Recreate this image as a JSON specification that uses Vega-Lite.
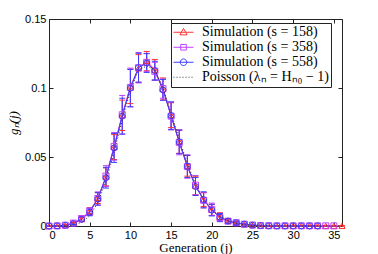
{
"$schema": "https://vega.github.io/schema/vega-lite/v6.json",
"width": 293, "height": 207,
"autosize": "none",
"padding": {"left": 49, "top": 19, "right": 36, "bottom": 28},
"background": "white",
"config": {
  "view": {"stroke": "#222", "strokeWidth": 1},
  "axis": {"grid": false, "domain": false, "tickColor": "#222", "tickSize": -4, "labelFont": "Liberation Sans", "labelFontSize": 11, "labelColor": "black", "titleFont": "Liberation Serif", "titleFontSize": 13, "titleColor": "black", "titleFontWeight": "normal", "labelPadding": 7}
},
"datasets": {
"sim": [
{"s":"158","j":0,"g":0,"lo":0,"hi":0},{"s":"158","j":1,"g":0.0001,"lo":0,"hi":0.0002},{"s":"158","j":2,"g":0.0005,"lo":0.0002,"hi":0.0008},{"s":"158","j":3,"g":0.0020,"lo":0.0012,"hi":0.0028},{"s":"158","j":4,"g":0.0050,"lo":0.0035,"hi":0.0065},{"s":"158","j":5,"g":0.0108,"lo":0.0083,"hi":0.0133},{"s":"158","j":6,"g":0.0203,"lo":0.0163,"hi":0.0243},{"s":"158","j":7,"g":0.0356,"lo":0.0291,"hi":0.0421},{"s":"158","j":8,"g":0.0572,"lo":0.0482,"hi":0.0662},{"s":"158","j":9,"g":0.0802,"lo":0.0692,"hi":0.0912},{"s":"158","j":10,"g":0.1012,"lo":0.0887,"hi":0.1137},{"s":"158","j":11,"g":0.1142,"lo":0.1042,"hi":0.1242},{"s":"158","j":12,"g":0.1195,"lo":0.1125,"hi":0.1265},{"s":"158","j":13,"g":0.1132,"lo":0.1057,"hi":0.1207},{"s":"158","j":14,"g":0.0993,"lo":0.0913,"hi":0.1073},{"s":"158","j":15,"g":0.0803,"lo":0.0713,"hi":0.0893},{"s":"158","j":16,"g":0.0612,"lo":0.0527,"hi":0.0697},{"s":"158","j":17,"g":0.0436,"lo":0.0361,"hi":0.0511},{"s":"158","j":18,"g":0.0292,"lo":0.0227,"hi":0.0357},{"s":"158","j":19,"g":0.0192,"lo":0.0142,"hi":0.0242},{"s":"158","j":20,"g":0.0117,"lo":0.0077,"hi":0.0157},{"s":"158","j":21,"g":0.0066,"lo":0.0036,"hi":0.0096},{"s":"158","j":22,"g":0.0037,"lo":0.0022,"hi":0.0052},{"s":"158","j":23,"g":0.0022,"lo":0.0012,"hi":0.0032},{"s":"158","j":24,"g":0.0012,"lo":0.0006,"hi":0.0018},{"s":"158","j":25,"g":0.0006,"lo":0.0002,"hi":0.0010},{"s":"158","j":26,"g":0.0003,"lo":0.0001,"hi":0.0005},{"s":"158","j":27,"g":0.0002,"lo":0.0001,"hi":0.0003},{"s":"158","j":28,"g":0.0001,"lo":0,"hi":0.0002},{"s":"158","j":29,"g":0.0001,"lo":0,"hi":0.0002},{"s":"158","j":30,"g":0.0001,"lo":0,"hi":0.0002},{"s":"158","j":31,"g":0.0001,"lo":0,"hi":0.0002},{"s":"158","j":32,"g":0.0001,"lo":0,"hi":0.0002},{"s":"158","j":33,"g":0.0001,"lo":0,"hi":0.0002},{"s":"158","j":34,"g":0.0001,"lo":0,"hi":0.0002},{"s":"158","j":35,"g":0.0001,"lo":0,"hi":0.0002},{"s":"158","j":36,"g":0.0001,"lo":0,"hi":0.0002},
{"s":"358","j":0,"g":0,"lo":0,"hi":0},{"s":"358","j":1,"g":0.0001,"lo":0,"hi":0.0002},{"s":"358","j":2,"g":0.0006,"lo":0.0003,"hi":0.0009},{"s":"358","j":3,"g":0.0021,"lo":0.0012,"hi":0.0030},{"s":"358","j":4,"g":0.0054,"lo":0.0036,"hi":0.0072},{"s":"358","j":5,"g":0.0104,"lo":0.0076,"hi":0.0132},{"s":"358","j":6,"g":0.0199,"lo":0.0151,"hi":0.0247},{"s":"358","j":7,"g":0.0362,"lo":0.0287,"hi":0.0437},{"s":"358","j":8,"g":0.0577,"lo":0.0477,"hi":0.0677},{"s":"358","j":9,"g":0.0806,"lo":0.0666,"hi":0.0946},{"s":"358","j":10,"g":0.1004,"lo":0.0864,"hi":0.1144},{"s":"358","j":11,"g":0.1147,"lo":0.1037,"hi":0.1257},{"s":"358","j":12,"g":0.1186,"lo":0.1121,"hi":0.1251},{"s":"358","j":13,"g":0.1121,"lo":0.1056,"hi":0.1186},{"s":"358","j":14,"g":0.0996,"lo":0.0926,"hi":0.1066},{"s":"358","j":15,"g":0.0796,"lo":0.0696,"hi":0.0896},{"s":"358","j":16,"g":0.0606,"lo":0.0516,"hi":0.0696},{"s":"358","j":17,"g":0.0431,"lo":0.0346,"hi":0.0516},{"s":"358","j":18,"g":0.0296,"lo":0.0226,"hi":0.0366},{"s":"358","j":19,"g":0.0186,"lo":0.0131,"hi":0.0241},{"s":"358","j":20,"g":0.0121,"lo":0.0076,"hi":0.0166},{"s":"358","j":21,"g":0.0061,"lo":0.0031,"hi":0.0091},{"s":"358","j":22,"g":0.0035,"lo":0.0019,"hi":0.0051},{"s":"358","j":23,"g":0.0024,"lo":0.0014,"hi":0.0034},{"s":"358","j":24,"g":0.0013,"lo":0.0007,"hi":0.0019},{"s":"358","j":25,"g":0.0007,"lo":0.0003,"hi":0.0011},{"s":"358","j":26,"g":0.0003,"lo":0.0001,"hi":0.0005},{"s":"358","j":27,"g":0.0002,"lo":0.0001,"hi":0.0003},{"s":"358","j":28,"g":0.0001,"lo":0,"hi":0.0002},{"s":"358","j":29,"g":0.0001,"lo":0,"hi":0.0002},{"s":"358","j":30,"g":0.0001,"lo":0,"hi":0.0002},{"s":"358","j":31,"g":0.0001,"lo":0,"hi":0.0002},{"s":"358","j":32,"g":0.0001,"lo":0,"hi":0.0002},{"s":"358","j":33,"g":0.0001,"lo":0,"hi":0.0002},{"s":"358","j":34,"g":0.0001,"lo":0,"hi":0.0002},{"s":"358","j":35,"g":0.0001,"lo":0,"hi":0.0002},
{"s":"558","j":0,"g":0,"lo":0,"hi":0},{"s":"558","j":1,"g":0.0001,"lo":0,"hi":0.0002},{"s":"558","j":2,"g":0.0005,"lo":0.0002,"hi":0.0008},{"s":"558","j":3,"g":0.0018,"lo":0.0011,"hi":0.0025},{"s":"558","j":4,"g":0.0048,"lo":0.0032,"hi":0.0064},{"s":"558","j":5,"g":0.0100,"lo":0.0074,"hi":0.0126},{"s":"558","j":6,"g":0.0196,"lo":0.0151,"hi":0.0241},{"s":"558","j":7,"g":0.0350,"lo":0.0275,"hi":0.0425},{"s":"558","j":8,"g":0.0566,"lo":0.0461,"hi":0.0671},{"s":"558","j":9,"g":0.0796,"lo":0.0666,"hi":0.0926},{"s":"558","j":10,"g":0.0999,"lo":0.0864,"hi":0.1134},{"s":"558","j":11,"g":0.1147,"lo":0.1042,"hi":0.1252},{"s":"558","j":12,"g":0.1181,"lo":0.1113,"hi":0.1249},{"s":"558","j":13,"g":0.1126,"lo":0.1058,"hi":0.1194},{"s":"558","j":14,"g":0.0986,"lo":0.0911,"hi":0.1061},{"s":"558","j":15,"g":0.0800,"lo":0.0700,"hi":0.0900},{"s":"558","j":16,"g":0.0609,"lo":0.0524,"hi":0.0694},{"s":"558","j":17,"g":0.0432,"lo":0.0352,"hi":0.0512},{"s":"558","j":18,"g":0.0286,"lo":0.0221,"hi":0.0351},{"s":"558","j":19,"g":0.0190,"lo":0.0132,"hi":0.0248},{"s":"558","j":20,"g":0.0115,"lo":0.0073,"hi":0.0157},{"s":"558","j":21,"g":0.0063,"lo":0.0035,"hi":0.0091},{"s":"558","j":22,"g":0.0036,"lo":0.0021,"hi":0.0051},{"s":"558","j":23,"g":0.0023,"lo":0.0013,"hi":0.0033},{"s":"558","j":24,"g":0.0014,"lo":0.0008,"hi":0.0020},{"s":"558","j":25,"g":0.0006,"lo":0.0002,"hi":0.0010},{"s":"558","j":26,"g":0.0003,"lo":0.0001,"hi":0.0005},{"s":"558","j":27,"g":0.0001,"lo":0,"hi":0.0002},{"s":"558","j":28,"g":0.0001,"lo":0,"hi":0.0002},{"s":"558","j":29,"g":0.0001,"lo":0,"hi":0.0002},{"s":"558","j":30,"g":0.0001,"lo":0,"hi":0.0002},{"s":"558","j":31,"g":0.0001,"lo":0,"hi":0.0002},{"s":"558","j":32,"g":0.0001,"lo":0,"hi":0.0002},{"s":"558","j":33,"g":0.0001,"lo":0,"hi":0.0002}
],
"poi": [
{"j":0,"g":0},{"j":1,"g":0},{"j":2,"g":0.0001},{"j":3,"g":0.0007},{"j":4,"g":0.0026},{"j":5,"g":0.0074},{"j":6,"g":0.0170},{"j":7,"g":0.0325},{"j":8,"g":0.0535},{"j":9,"g":0.0768},{"j":10,"g":0.0982},{"j":11,"g":0.1129},{"j":12,"g":0.1160},{"j":13,"g":0.1131},{"j":14,"g":0.1001},{"j":15,"g":0.0822},{"j":16,"g":0.0630},{"j":17,"g":0.0453},{"j":18,"g":0.0306},{"j":19,"g":0.0196},{"j":20,"g":0.0118},{"j":21,"g":0.0068},{"j":22,"g":0.0037},{"j":23,"g":0.0019},{"j":24,"g":0.0009},{"j":25,"g":0.0004},{"j":26,"g":0.0002},{"j":27,"g":0.0001},{"j":28,"g":0},{"j":29,"g":0},{"j":30,"g":0},{"j":31,"g":0},{"j":32,"g":0},{"j":33,"g":0},{"j":34,"g":0},{"j":35,"g":0},{"j":36,"g":0}
],
"leg": [
{"label":"Simulation (s = 158)"},{"label":"Simulation (s = 358)"},{"label":"Simulation (s = 558)"},{"label":"Poisson (λₙ = Hₙ₀ − 1)"}
]
},
"resolve": {"scale": {"color": "independent", "shape": "independent"}, "axis": {"x": "independent", "y": "independent"}},
"layer": [
{
 "data": {"name": "sim"},
 "mark": {"type": "rule", "strokeWidth": 1},
 "encoding": {
  "x": {"field": "j", "type": "quantitative", "scale": {"domain": [0, 36], "nice": false, "zero": false},
        "axis": {"orient": "bottom", "values": [0,5,10,15,20,25,30,35], "title": "Generation (j)", "titleFont": "Liberation Serif", "titleFontSize": 13, "titlePadding": 1}},
  "y": {"field": "lo", "type": "quantitative", "scale": {"domain": [0, 0.15], "nice": false},
        "axis": {"orient": "left", "values": [0,0.05,0.1,0.15], "format": ".2~f", "title": "gₙ(j)", "titleFont": "Liberation Serif", "titleFontSize": 13, "titleFontStyle": "italic", "titlePadding": 4}},
  "y2": {"field": "hi"},
  "color": {"field": "s", "type": "nominal", "scale": {"domain": ["158","358","558"], "range": ["#ff3030","#c040ff","#3c3cff"]}, "legend": null}
 }
},
{
 "data": {"name": "sim"},
 "mark": {"type": "tick", "orient": "horizontal", "size": 6, "thickness": 1, "opacity": 1},
 "encoding": {
  "x": {"field": "j", "type": "quantitative", "scale": {"domain": [0, 36], "nice": false, "zero": false},
        "axis": {"orient": "top", "values": [0,5,10,15,20,25,30,35], "labels": false, "title": null}},
  "y": {"field": "lo", "type": "quantitative", "scale": {"domain": [0, 0.15], "nice": false},
        "axis": {"orient": "right", "values": [0,0.05,0.1,0.15], "labels": false, "title": null}},
  "color": {"field": "s", "type": "nominal", "scale": {"domain": ["158","358","558"], "range": ["#ff3030","#c040ff","#3c3cff"]}, "legend": null}
 }
},
{
 "data": {"name": "sim"},
 "mark": {"type": "tick", "orient": "horizontal", "size": 6, "thickness": 1, "opacity": 1},
 "encoding": {
  "x": {"field": "j", "type": "quantitative", "axis": null},
  "y": {"field": "hi", "type": "quantitative", "axis": null},
  "color": {"field": "s", "type": "nominal", "scale": {"domain": ["158","358","558"], "range": ["#ff3030","#c040ff","#3c3cff"]}, "legend": null}
 }
},
{
 "data": {"name": "sim"},
 "mark": {"type": "line", "strokeWidth": 1},
 "encoding": {
  "x": {"field": "j", "type": "quantitative", "axis": null},
  "y": {"field": "g", "type": "quantitative", "axis": null},
  "color": {"field": "s", "type": "nominal", "scale": {"domain": ["158","358","558"], "range": ["#ff3030","#c040ff","#3c3cff"]}, "legend": null}
 }
},
{
 "data": {"name": "sim"},
 "mark": {"type": "point", "filled": false, "strokeWidth": 1, "size": 36, "opacity": 1},
 "encoding": {
  "x": {"field": "j", "type": "quantitative", "axis": null},
  "y": {"field": "g", "type": "quantitative", "axis": null},
  "color": {"field": "s", "type": "nominal", "scale": {"domain": ["158","358","558"], "range": ["#ff3030","#c040ff","#3c3cff"]}, "legend": null},
  "shape": {"field": "s", "type": "nominal", "scale": {"domain": ["158","358","558"], "range": ["triangle-up","square","circle"]}, "legend": null}
 }
},
{
 "data": {"name": "poi"},
 "mark": {"type": "line", "strokeWidth": 1, "strokeDash": [1, 2], "color": "#333333"},
 "encoding": {
  "x": {"field": "j", "type": "quantitative", "axis": null},
  "y": {"field": "g", "type": "quantitative", "axis": null}
 }
},
{
 "data": {"name": "leg"},
 "mark": {"type": "point", "filled": false, "strokeWidth": 1, "opacity": 1},
 "encoding": {
  "x": {"field": "j", "type": "quantitative", "axis": null},
  "y": {"field": "g", "type": "quantitative", "axis": null},
  "color": {"field": "label", "type": "nominal",
    "scale": {"domain": ["Simulation (s = 158)","Simulation (s = 358)","Simulation (s = 558)","Poisson (λₙ = Hₙ₀ − 1)"], "range": ["#ff3030","#c040ff","#3c3cff","#333333"]},
    "legend": {"title": null, "orient": "none", "legendX": 122, "legendY": 4, "padding": 2, "strokeColor": "#222", "fillColor": "white", "cornerRadius": 0, "symbolSize": 400, "symbolStrokeWidth": 1, "labelFont": "Liberation Serif", "labelFontSize": 14, "labelColor": "black", "labelOffset": 8, "clipHeight": 14.5, "rowPadding": 0, "labelLimit": 300}},
  "shape": {"field": "label", "type": "nominal",
    "scale": {"domain": ["Simulation (s = 158)","Simulation (s = 358)","Simulation (s = 558)","Poisson (λₙ = Hₙ₀ − 1)"],
      "range": ["M-1,0H1M0,-0.38L0.36,0.26L-0.36,0.26Z", "M-1,0H1M-0.28,-0.28H0.28V0.28H-0.28Z", "M-1,0H1M0.33,0A0.33,0.33,0,1,1,-0.33,0A0.33,0.33,0,1,1,0.33,0Z", "M-1,0H-0.9M-0.7,0H-0.6M-0.4,0H-0.3M-0.1,0H0M0.2,0H0.3M0.5,0H0.6M0.8,0H0.9"]},
    "legend": {"title": null, "orient": "none", "legendX": 122, "legendY": 4, "padding": 2, "strokeColor": "#222", "fillColor": "white", "cornerRadius": 0, "symbolSize": 400, "symbolStrokeWidth": 1, "labelFont": "Liberation Serif", "labelFontSize": 14, "labelColor": "black", "labelOffset": 8, "clipHeight": 14.5, "rowPadding": 0, "labelLimit": 300}}
 }
}
]
}
